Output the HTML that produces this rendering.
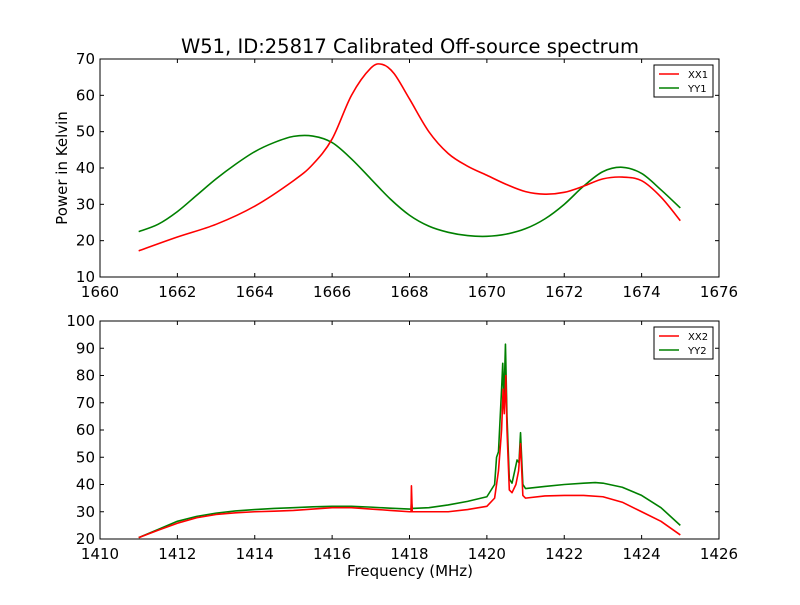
<!DOCTYPE html>
<html><head><meta charset="utf-8"><style>
body{margin:0;background:#fff;}
svg text{font-family:"DejaVu Sans","Liberation Sans",sans-serif;}
</style></head><body>
<svg id="c" width="800" height="600" xmlns="http://www.w3.org/2000/svg">
<rect width="800" height="600" fill="#fff"/>
<text x="410" y="53" font-size="19.5" text-anchor="middle">W51, ID:25817 Calibrated Off-source spectrum</text>
<text x="67" y="168" font-size="15" text-anchor="middle" transform="rotate(-90 67 168)">Power in Kelvin</text>
<text x="410" y="576" font-size="15" text-anchor="middle">Frequency (MHz)</text>
</svg>
<script>
const topX1=[1661,1662,1663,1664,1665,1665.5,1666,1666.5,1667,1667.3,1667.6,1668,1668.5,1669,1669.5,1670,1670.5,1671,1671.5,1672,1672.5,1673,1673.5,1674,1674.5,1675];
const topXX1=[17.2,21,24.5,29.5,36.5,41,48,60,67.5,68.5,66,59,50,44,40.5,38,35.5,33.5,32.8,33.3,35,37,37.5,36.5,32,25.5];
const topX2=[1661,1661.5,1662,1662.5,1663,1663.5,1664,1664.5,1665,1665.5,1666,1666.5,1667,1667.5,1668,1668.5,1669,1669.5,1670,1670.5,1671,1671.5,1672,1672.5,1673,1673.5,1674,1674.5,1675];
const topYY1=[22.5,24.5,28,32.5,37,41,44.5,47,48.7,48.8,47,42.5,37,31.5,27,24,22.3,21.4,21.2,21.8,23.3,26,30,35,39,40.2,38.5,34,29];
const botX1=[1411,1411.5,1412,1412.5,1413,1413.5,1414,1414.5,1415,1415.5,1416,1416.5,1417,1417.5,1418,1418.04,1418.05,1418.07,1418.5,1419,1419.5,1420,1420.2,1420.3,1420.38,1420.42,1420.45,1420.49,1420.52,1420.58,1420.65,1420.75,1420.82,1420.87,1420.93,1421,1421.5,1422,1422.5,1423,1423.5,1424,1424.5,1425];
const botXX2=[20.5,23.2,25.8,27.8,29,29.6,30,30.2,30.5,31,31.5,31.5,31,30.5,30,30,39.5,30,30,30,30.8,32,35,45,60,75,66,80,60,38,37,40,45,55,36,35,35.8,36,36,35.5,33.5,30,26.5,21.5];
const botX2=[1411,1411.5,1412,1412.5,1413,1413.5,1414,1414.5,1415,1415.5,1416,1416.5,1417,1417.5,1418,1418.04,1418.05,1418.07,1418.5,1419,1419.5,1420,1420.2,1420.25,1420.3,1420.38,1420.41,1420.44,1420.48,1420.52,1420.58,1420.65,1420.72,1420.78,1420.83,1420.87,1420.93,1421,1421.5,1422,1422.5,1422.8,1423,1423.5,1424,1424.5,1425];
const botYY2=[20.5,23.5,26.5,28.3,29.5,30.3,30.8,31.2,31.5,31.8,32,32,31.7,31.3,31,31,34,31.2,31.5,32.5,33.8,35.5,40,50,52,75,84.5,70,91.5,65,42,40.5,45,49,48,59,40,38.5,39.3,40,40.5,40.7,40.5,39,36,31.5,25];
const topXTicks=[1660,1662,1664,1666,1668,1670,1672,1674,1676];
const topYTicks=[10,20,30,40,50,60,70];
const botXTicks=[1410,1412,1414,1416,1418,1420,1422,1424,1426];
const botYTicks=[20,30,40,50,60,70,80,90,100];
const NS="http://www.w3.org/2000/svg";
const svg=document.getElementById('c');
function mk(t,a){const e=document.createElementNS(NS,t);for(const k in a)e.setAttribute(k,a[k]);svg.appendChild(e);return e;}
function panel(name,y0,y1,xmin,xmax,ymin,ymax,xt,yt,series,legend){
  const L=100,R=719;
  const sx=v=>L+(v-xmin)/(xmax-xmin)*(R-L);
  const sy=v=>y1-(v-ymin)/(ymax-ymin)*(y1-y0);
  series.forEach(s=>{
    let d='';s.x.forEach((v,i)=>{d+=(i?'L':'M')+sx(v).toFixed(2)+','+sy(s.y[i]).toFixed(2);});
    if(s.smooth){d='';const P=s.x.map((v,i)=>[sx(v),sy(s.y[i])]);
      d='M'+P[0][0]+','+P[0][1];
      for(let i=0;i<P.length-1;i++){const p0=P[Math.max(i-1,0)],p1=P[i],p2=P[i+1],p3=P[Math.min(i+2,P.length-1)];
        d+='C'+(p1[0]+(p2[0]-p0[0])/6)+','+(p1[1]+(p2[1]-p0[1])/6)+' '+(p2[0]-(p3[0]-p1[0])/6)+','+(p2[1]-(p3[1]-p1[1])/6)+' '+p2[0]+','+p2[1];}}
    const p=mk('path',{d:d,fill:'none',stroke:s.c,'stroke-width':1.6,'stroke-linejoin':'round'});
    
    
  });
  const fr=mk('rect',{x:L,y:y0,width:R-L,height:y1-y0,fill:'none',stroke:'#000','stroke-width':1});
  
  
  xt.forEach(v=>{const x=sx(v);
    mk('line',{x1:x,x2:x,y1:y1,y2:y1-4,stroke:'#000'});mk('line',{x1:x,x2:x,y1:y0,y2:y0+4,stroke:'#000'});
    const t=mk('text',{x:x,y:y1+20,'font-size':15,'text-anchor':'middle'});t.textContent=v;
    
    });
  yt.forEach(v=>{const y=sy(v);
    mk('line',{x1:L,x2:L+4,y1:y,y2:y,stroke:'#000'});mk('line',{x1:R,x2:R-4,y1:y,y2:y,stroke:'#000'});
    const t=mk('text',{x:L-5,y:y+5,'font-size':15,'text-anchor':'end'});t.textContent=v;
    
    });
  const lb=mk('rect',{x:654,y:y0+6,width:59,height:32,fill:'#fff',stroke:'#000','stroke-width':1});
  
  
  legend.forEach((g,i)=>{const y=y0+15+i*14;
    mk('line',{x1:659,x2:679,y1:y,y2:y,stroke:g.c,'stroke-width':1.4});
    const t=mk('text',{x:688,y:y+4,'font-size':10});t.textContent=g.t;
    
    });
}
panel('top-plot',59,277,1660,1676,10,70,topXTicks,topYTicks,
 [{x:topX2,y:topYY1,c:'#008000',name:'yy1-line',smooth:true},{x:topX1,y:topXX1,c:'#ff0000',name:'xx1-line',smooth:true}],
 [{t:'XX1',c:'#ff0000'},{t:'YY1',c:'#008000'}]);
panel('bottom-plot',321,539,1410,1426,20,100,botXTicks,botYTicks,
 [{x:botX2,y:botYY2,c:'#008000',name:'yy2-line'},{x:botX1,y:botXX2,c:'#ff0000',name:'xx2-line'}],
 [{t:'XX2',c:'#ff0000'},{t:'YY2',c:'#008000'}]);
</script>
</body></html>
